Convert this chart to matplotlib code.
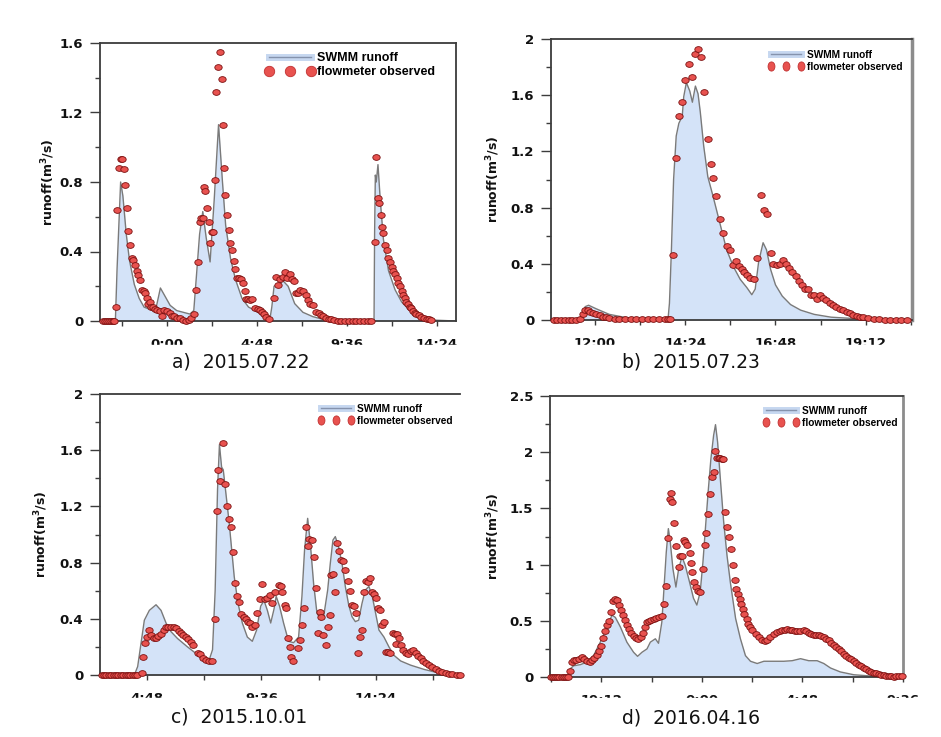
import matplotlib
matplotlib.use("Agg")
import matplotlib.pyplot as plt
from matplotlib.lines import Line2D
from matplotlib.markers import MarkerStyle
from matplotlib.patches import Rectangle
from matplotlib.ticker import MultipleLocator, FuncFormatter
from matplotlib.transforms import Affine2D

# ---- data: time in hours (from midnight of the event day), runoff in m3/s ----

# a) 2015.07.22
a_swmm_t = [-3.57, -2.75, -2.66, -2.47, -2.35, -2.17, -2.0, -1.74, -1.48, -1.22,
            -0.87, -0.61, -0.49, -0.35, -0.09, 0.17, 0.52, 1.22, 1.43, 1.60,
            1.74, 1.91, 2.09, 2.30, 2.52, 2.75, 2.96, 3.13, 3.39, 3.65,
            4.0, 4.35, 4.70, 5.22, 5.48, 5.59, 5.71, 6.20, 6.46, 6.81,
            7.25, 7.78, 8.48, 11.04, 11.07, 11.11, 11.16, 11.25, 11.37, 11.54,
            11.81, 12.16, 12.51, 12.86, 13.21, 13.73, 14.26, 15.4]
a_swmm_q = [0, 0, 0.3, 0.80, 0.72, 0.50, 0.35, 0.21, 0.13, 0.08,
            0.065, 0.06, 0.12, 0.19, 0.14, 0.09, 0.06, 0.04, 0.06, 0.3,
            0.5, 0.63, 0.48, 0.34, 0.7, 1.13, 0.80, 0.55, 0.36, 0.24,
            0.13, 0.08, 0.06, 0.025, 0.005, 0.08, 0.20, 0.23, 0.20, 0.10,
            0.05, 0.025, 0.005, 0, 0.5, 0.84, 0.80, 0.90, 0.70, 0.47,
            0.29, 0.18, 0.11, 0.07, 0.045, 0.02, 0.005, 0]
a_obs_t = [-3.40, -3.30, -3.20, -3.10, -3.00, -2.90, -2.80, -2.70, -2.64, -2.57,
           -2.47, -2.38, -2.30, -2.23, -2.14, -2.09, -1.97, -1.88, -1.79, -1.70,
           -1.62, -1.53, -1.43, -1.34, -1.25, -1.17, -1.08, -0.99, -0.92, -0.85,
           -0.75, -0.66, -0.52, -0.38, -0.26, -0.17, 0.0, 0.14, 0.26, 0.38,
           0.52, 0.70, 0.87, 1.04, 1.18, 1.30, 1.44, 1.57, 1.65, 1.74,
           1.83, 1.91, 1.97, 2.05, 2.16, 2.23, 2.31, 2.40, 2.47, 2.56,
           2.64, 2.70, 2.82, 2.92, 2.97, 3.06, 3.11, 3.20, 3.30, 3.37,
           3.46, 3.55, 3.65, 3.74, 3.83, 3.93, 4.03, 4.14, 4.21, 4.31,
           4.43, 4.56, 4.70, 4.83, 4.96, 5.08, 5.18, 5.30, 5.43, 5.71,
           5.82, 5.94, 6.03, 6.17, 6.29, 6.41, 6.55, 6.69, 6.78, 6.87,
           6.99, 7.11, 7.25, 7.39, 7.52, 7.64, 7.78, 7.95, 8.09, 8.22,
           8.34, 8.48, 8.62, 8.76, 8.92, 9.1, 9.3, 9.5, 9.7, 9.9,
           10.1, 10.3, 10.5, 10.7, 10.9, 11.07, 11.16, 11.23, 11.30, 11.39,
           11.46, 11.54, 11.63, 11.72, 11.81, 11.89, 11.98, 12.07, 12.16, 12.24,
           12.33, 12.42, 12.51, 12.59, 12.68, 12.77, 12.86, 12.94, 13.03, 13.12,
           13.21, 13.29, 13.42, 13.56, 13.70, 13.84, 13.98, 14.08]
a_obs_q = [0, 0, 0, 0, 0, 0, 0, 0.08, 0.64, 0.88,
           0.93, 0.93, 0.875, 0.78, 0.65, 0.52, 0.44, 0.36, 0.35, 0.32,
           0.29, 0.265, 0.235, 0.18, 0.175, 0.16, 0.13, 0.10, 0.11, 0.08,
           0.08, 0.07, 0.065, 0.06, 0.03, 0.065, 0.06, 0.045, 0.03, 0.03,
           0.02, 0.015, 0.006, 0.002, 0.006, 0.015, 0.04, 0.18, 0.34, 0.57,
           0.59, 0.59, 0.77, 0.75, 0.65, 0.57, 0.45, 0.51, 0.51, 0.81,
           1.32, 1.46, 1.55, 1.39, 1.13, 0.88, 0.725, 0.61, 0.525, 0.45,
           0.41, 0.345, 0.30, 0.25, 0.25, 0.24, 0.22, 0.17, 0.125, 0.125,
           0.12, 0.125, 0.077, 0.07, 0.063, 0.054, 0.04, 0.025, 0.01, 0.13,
           0.255, 0.21, 0.24, 0.255, 0.28, 0.25, 0.27, 0.24, 0.23, 0.16,
           0.16, 0.18, 0.175, 0.15, 0.12, 0.10, 0.09, 0.054, 0.044, 0.035,
           0.03, 0.02, 0.013, 0.01, 0.006, 0, 0, 0, 0, 0,
           0, 0, 0, 0, 0, 0.457, 0.946, 0.706, 0.68, 0.61,
           0.54, 0.505, 0.44, 0.41, 0.36, 0.34, 0.31, 0.29, 0.27, 0.245,
           0.22, 0.20, 0.175, 0.15, 0.13, 0.11, 0.096, 0.083, 0.073, 0.06,
           0.048, 0.04, 0.033, 0.025, 0.02, 0.013, 0.01, 0.006]

# b) 2015.07.23
b_swmm_t = [10.83, 11.58, 11.67, 11.74, 11.83, 12.03, 12.38, 12.83, 13.27, 13.94,
            13.98, 14.03, 14.09, 14.16, 14.23, 14.32, 14.36, 14.43, 14.52, 14.59,
            14.67, 14.74, 14.80, 14.89, 15.00, 15.14, 15.32, 15.50, 15.68, 15.86,
            16.04, 16.17, 16.26, 16.35, 16.47, 16.56, 16.67, 16.80, 16.98, 17.20,
            17.47, 17.83, 18.28, 18.91, 19.54, 20.43]
b_swmm_q = [0, 0, 0.05, 0.095, 0.105, 0.08, 0.04, 0.017, 0.003, 0,
            0.12, 0.48, 1.0, 1.31, 1.40, 1.45, 1.59, 1.69, 1.63, 1.55,
            1.665, 1.61, 1.48, 1.24, 1.02, 0.88, 0.69, 0.50, 0.38, 0.29,
            0.23, 0.18, 0.22, 0.41, 0.55, 0.50, 0.36, 0.25, 0.17, 0.11,
            0.07, 0.04, 0.02, 0.01, 0.005, 0]
b_obs_t = [10.9, 11.0, 11.1, 11.2, 11.3, 11.4, 11.5, 11.6, 11.67, 11.74,
           11.81, 11.88, 11.96, 12.03, 12.12, 12.20, 12.29, 12.38, 12.52, 12.65,
           12.8, 12.95, 13.1, 13.25, 13.4, 13.55, 13.7, 13.85, 13.94, 14.0,
           14.07, 14.16, 14.23, 14.31, 14.40, 14.49, 14.58, 14.66, 14.74, 14.81,
           14.90, 15.00, 15.08, 15.15, 15.23, 15.32, 15.40, 15.50, 15.59, 15.66,
           15.75, 15.83, 15.90, 15.97, 16.05, 16.13, 16.22, 16.31, 16.41, 16.49,
           16.58, 16.67, 16.74, 16.83, 16.91, 17.0, 17.08, 17.16, 17.25, 17.34,
           17.43, 17.50, 17.58, 17.67, 17.74, 17.82, 17.91, 17.98, 18.06, 18.15,
           18.24, 18.33, 18.42, 18.51, 18.60, 18.69, 18.78, 18.87, 18.96, 19.05,
           19.14, 19.27, 19.41, 19.54, 19.7, 19.85, 20.0, 20.15, 20.3]
b_obs_q = [0, 0, 0, 0, 0, 0, 0, 0.005, 0.04, 0.07,
           0.07, 0.06, 0.05, 0.045, 0.033, 0.024, 0.019, 0.014, 0.01, 0.006,
           0.005, 0.004, 0.004, 0.005, 0.004, 0.005, 0.004, 0.005, 0.005, 0.005,
           0.46, 1.155, 1.45, 1.55, 1.71, 1.82, 1.73, 1.89, 1.93, 1.87,
           1.625, 1.29, 1.11, 1.01, 0.88, 0.72, 0.62, 0.53, 0.50, 0.39,
           0.42, 0.385, 0.36, 0.34, 0.32, 0.30, 0.29, 0.44, 0.89, 0.78,
           0.757, 0.48, 0.40, 0.39, 0.40, 0.43, 0.40, 0.37, 0.34, 0.31,
           0.28, 0.25, 0.22, 0.22, 0.175, 0.18, 0.15, 0.175, 0.16, 0.14,
           0.12, 0.11, 0.095, 0.08, 0.07, 0.057, 0.047, 0.038, 0.031, 0.024,
           0.019, 0.014, 0.01, 0.005, 0, 0, 0, 0, 0]

# c) 2015.10.01
c_swmm_t = [2.83, 4.27, 4.41, 4.55, 4.69, 4.90, 5.18, 5.39, 5.60, 5.80,
            6.08, 6.50, 6.85, 7.13, 7.41, 7.55, 7.66, 7.76, 7.84, 7.93,
            8.0, 8.08, 8.25, 8.46, 8.62, 8.80, 9.01, 9.22, 9.40, 9.57,
            9.71, 9.85, 9.99, 10.13, 10.22, 10.36, 10.53, 10.74, 10.95, 11.16,
            11.30, 11.41, 11.54, 11.65, 11.79, 11.93, 12.10, 12.21, 12.38, 12.49,
            12.60, 12.70, 12.84, 12.98, 13.12, 13.26, 13.40, 13.54, 13.68, 13.82,
            13.96, 14.11, 14.25, 14.39, 14.53, 14.74, 14.95, 15.16, 15.44, 15.86,
            16.42, 16.98, 17.54, 17.93]
c_swmm_q = [0, 0, 0.06, 0.225, 0.39, 0.46, 0.50, 0.46, 0.37, 0.31,
            0.26, 0.20, 0.154, 0.11, 0.107, 0.18, 0.60, 1.32, 1.64, 1.48,
            1.46, 1.34, 1.08, 0.70, 0.51, 0.37, 0.27, 0.24, 0.32, 0.49,
            0.53, 0.46, 0.37, 0.47, 0.56, 0.49, 0.37, 0.24, 0.23, 0.27,
            0.56, 0.89, 1.115, 0.94, 0.65, 0.44, 0.39, 0.415, 0.605, 0.795,
            0.96, 0.985, 0.91, 0.795, 0.63, 0.50, 0.415, 0.38, 0.39, 0.51,
            0.605, 0.63, 0.56, 0.44, 0.32, 0.27, 0.20, 0.14, 0.10, 0.07,
            0.04, 0.017, 0.007, 0]
c_obs_t = [2.9, 3.0, 3.1, 3.2, 3.3, 3.4, 3.5, 3.6, 3.7, 3.8,
           3.9, 4.0, 4.1, 4.2, 4.3, 4.4, 4.58, 4.65, 4.72, 4.80,
           4.90, 4.97, 5.08, 5.18, 5.27, 5.39, 5.50, 5.60, 5.69, 5.80,
           5.92, 6.03, 6.13, 6.22, 6.33, 6.43, 6.53, 6.64, 6.75, 6.92,
           7.03, 7.14, 7.27, 7.41, 7.53, 7.65, 7.73, 7.80, 7.88, 7.99,
           8.07, 8.15, 8.22, 8.33, 8.41, 8.48, 8.57, 8.65, 8.76, 8.87,
           8.96, 9.04, 9.13, 9.22, 9.32, 9.43, 9.54, 9.64, 9.74, 9.85,
           9.96, 10.06, 10.18, 10.32, 10.41, 10.48, 10.57, 10.64, 10.71, 10.78,
           10.85, 10.92, 11.12, 11.20, 11.30, 11.37, 11.45, 11.54, 11.61, 11.71,
           11.79, 11.87, 11.96, 12.04, 12.11, 12.18, 12.29, 12.38, 12.46, 12.52,
           12.60, 12.67, 12.77, 12.87, 12.94, 13.02, 13.12, 13.22, 13.31, 13.38,
           13.47, 13.56, 13.64, 13.75, 13.82, 13.91, 13.99, 14.06, 14.15, 14.23,
           14.32, 14.40, 14.48, 14.57, 14.64, 14.74, 14.81, 14.91, 14.99, 15.10,
           15.19, 15.23, 15.27, 15.37, 15.47, 15.55, 15.65, 15.75, 15.86, 15.97,
           16.07, 16.17, 16.28, 16.39, 16.51, 16.63, 16.77, 16.91, 17.05, 17.19,
           17.33, 17.47, 17.61, 17.82, 17.92]
c_obs_q = [0, 0, 0, 0, 0, 0, 0, 0, 0, 0,
           0, 0, 0, 0, 0, 0, 0.017, 0.13, 0.225, 0.27,
           0.32, 0.285, 0.26, 0.266, 0.278, 0.29, 0.32, 0.344, 0.344, 0.344,
           0.34, 0.335, 0.315, 0.30, 0.285, 0.27, 0.254, 0.237, 0.21, 0.16,
           0.15, 0.12, 0.11, 0.10, 0.097, 0.40, 1.17, 1.46, 1.38, 1.65,
           1.36, 1.20, 1.11, 1.055, 0.875, 0.657, 0.56, 0.52, 0.434, 0.415,
           0.40, 0.38, 0.37, 0.344, 0.354, 0.444, 0.54, 0.65, 0.54, 0.546,
           0.57, 0.51, 0.593, 0.64, 0.63, 0.59, 0.50, 0.48, 0.26, 0.20,
           0.13, 0.10, 0.19, 0.25, 0.354, 0.48, 1.056, 0.92, 0.966, 0.96,
           0.837, 0.62, 0.30, 0.45, 0.41, 0.285, 0.21, 0.34, 0.427, 0.71,
           0.72, 0.59, 0.94, 0.88, 0.82, 0.81, 0.75, 0.67, 0.60, 0.50,
           0.49, 0.44, 0.154, 0.27, 0.32, 0.59, 0.67, 0.66, 0.69, 0.59,
           0.577, 0.546, 0.474, 0.46, 0.356, 0.38, 0.166, 0.166, 0.16, 0.30,
           0.29, 0.22, 0.29, 0.26, 0.21, 0.18, 0.154, 0.147, 0.173, 0.178,
           0.154, 0.135, 0.12, 0.10, 0.088, 0.071, 0.055, 0.04, 0.031, 0.021,
           0.014, 0.01, 0.007, 0.003, 0]

# d) 2016.04.16 (hours counted from midnight of 04.15)
d_swmm_t = [16.75, 17.64, 17.72, 17.88, 18.2, 18.52, 18.83, 19.15, 19.47, 19.71,
            19.87, 20.11, 20.42, 20.74, 20.93, 21.14, 21.38, 21.54, 21.78, 21.93,
            22.09, 22.20, 22.30, 22.40, 22.49, 22.62, 22.76, 22.89, 23.05, 23.21,
            23.41, 23.60, 23.76, 23.92, 24.05, 24.18, 24.30, 24.43, 24.56, 24.65,
            24.75, 24.88, 25.04, 25.20, 25.36, 25.61, 25.84, 26.08, 26.32, 26.64,
            26.96, 27.43, 27.91, 28.31, 28.71, 29.10, 29.50, 29.82, 30.14, 30.61,
            31.25, 32.04, 32.84, 33.6]
d_swmm_q = [0, 0, 0.074, 0.10, 0.11, 0.133, 0.19, 0.31, 0.445, 0.55,
            0.53, 0.445, 0.31, 0.22, 0.184, 0.22, 0.25, 0.31, 0.34, 0.30,
            0.49, 0.815, 1.11, 1.32, 1.20, 0.96, 0.80, 0.96, 1.07, 0.99,
            0.845, 0.70, 0.64, 0.756, 1.02, 1.35, 1.65, 1.94, 2.15, 2.245,
            2.09, 1.765, 1.38, 1.08, 0.84, 0.52, 0.34, 0.19, 0.14, 0.12,
            0.14, 0.14, 0.14, 0.145, 0.163, 0.145, 0.145, 0.12, 0.08, 0.045,
            0.02, 0.009, 0.003, 0]
d_obs_t = [16.8, 16.9, 17.0, 17.1, 17.2, 17.3, 17.4, 17.5, 17.6, 17.72,
           17.80, 17.88, 18.0, 18.13, 18.28, 18.39, 18.52, 18.64, 18.75, 18.87,
           18.99, 19.10, 19.18, 19.28, 19.36, 19.47, 19.57, 19.66, 19.76, 19.87,
           19.95, 20.04, 20.14, 20.23, 20.33, 20.42, 20.52, 20.61, 20.74, 20.87,
           20.96, 21.09, 21.19, 21.28, 21.38, 21.47, 21.57, 21.70, 21.82, 21.95,
           22.08, 22.20, 22.30, 22.38, 22.46, 22.52, 22.59, 22.68, 22.78, 22.89,
           22.97, 23.06, 23.13, 23.21, 23.29, 23.41, 23.48, 23.54, 23.64, 23.73,
           23.83, 23.92, 24.05, 24.13, 24.21, 24.30, 24.40, 24.48, 24.56, 24.64,
           24.72, 24.80, 24.88, 24.96, 25.03, 25.10, 25.21, 25.29, 25.37, 25.48,
           25.56, 25.65, 25.73, 25.81, 25.89, 25.97, 26.03, 26.13, 26.21, 26.29,
           26.40, 26.56, 26.72, 26.88, 27.0, 27.12, 27.27, 27.43, 27.59, 27.71,
           27.83, 27.95, 28.07, 28.19, 28.31, 28.43, 28.55, 28.70, 28.86, 28.98,
           29.10, 29.22, 29.34, 29.46, 29.58, 29.70, 29.82, 29.94, 30.06, 30.18,
           30.30, 30.42, 30.53, 30.65, 30.77, 30.89, 31.01, 31.13, 31.25, 31.37,
           31.49, 31.61, 31.73, 31.85, 31.96, 32.08, 32.20, 32.32, 32.44, 32.56,
           32.68, 32.80, 32.92, 33.04, 33.16, 33.28, 33.40, 33.55]
d_obs_q = [0, 0, 0, 0, 0, 0, 0, 0, 0, 0.05,
           0.13, 0.154, 0.154, 0.163, 0.178, 0.163, 0.145, 0.133, 0.148, 0.169,
           0.193, 0.228, 0.276, 0.347, 0.406, 0.46, 0.495, 0.578, 0.673, 0.697,
           0.682, 0.638, 0.593, 0.549, 0.504, 0.46, 0.424, 0.394, 0.365, 0.347,
           0.341, 0.356, 0.394, 0.445, 0.49, 0.50, 0.504, 0.519, 0.525, 0.53,
           0.543, 0.65, 0.81, 1.237, 1.587, 1.64, 1.557, 1.37, 1.166, 0.98,
           1.08, 1.077, 1.216, 1.20, 1.17, 1.106, 1.017, 0.934, 0.845, 0.80,
           0.762, 0.756, 0.964, 1.17, 1.278, 1.453, 1.63, 1.78, 1.824, 2.01,
           1.95, 1.95, 1.95, 1.94, 1.94, 1.468, 1.335, 1.246, 1.142, 0.994,
           0.86, 0.786, 0.741, 0.697, 0.652, 0.608, 0.563, 0.519, 0.474, 0.445,
           0.415, 0.385, 0.356, 0.326, 0.32, 0.326, 0.356, 0.385, 0.40, 0.41,
           0.415, 0.42, 0.424, 0.42, 0.415, 0.41, 0.406, 0.41, 0.415, 0.405,
           0.394, 0.385, 0.376, 0.372, 0.37, 0.365, 0.356, 0.342, 0.326, 0.305,
           0.282, 0.265, 0.246, 0.227, 0.208, 0.19, 0.172, 0.156, 0.14, 0.125,
           0.11, 0.095, 0.08, 0.068, 0.056, 0.047, 0.038, 0.032, 0.027, 0.021,
           0.015, 0.012, 0.009, 0.005, 0.0, 0.005, 0.009, 0.006]

captions = ["a)  2015.07.22", "b)  2015.07.23", "c)  2015.10.01", "d)  2016.04.16"]

# ---- styling ----
FILL = "#d4e3f8"
LINE = "#7a7a7a"
FACE = "#e8524f"
EDGE = "#7a1010"
SPINE = "#3c3c3c"
W, H = 941, 737


def px_box(left, top, right, bottom):
    """Axes rectangle from pixel edges of the 941x737 picture."""
    return [left / W, 1 - bottom / H, (right - left) / W, (bottom - top) / H]


def hhmm(h, pos=None):
    m = int(round(h * 60)) % (24 * 60)
    return f"{m // 60}:{m % 60:02d}"


def yfmt(v, pos=None):
    return f"{round(v, 2):g}"


obs_marker = MarkerStyle("o", transform=Affine2D().scale(1.0, 0.78))
leg_marker_tall = MarkerStyle("o", transform=Affine2D().scale(0.75, 1.0))


def draw_panel(ax, swmm_t, swmm_q, obs_t, obs_q, xlim, ymax, ystep, yminor,
               leg_xy, leg_font, leg_hl, leg_ms, leg_mk, ylab_x):
    ax.fill_between(swmm_t, swmm_q, color=FILL, lw=0, zorder=1)
    ax.plot(swmm_t, swmm_q, color=LINE, lw=1.0, zorder=2)
    ax.plot(obs_t, obs_q, ls="none", marker=obs_marker, ms=5.3, mfc=FACE,
            mec=EDGE, mew=0.6, clip_on=False, zorder=3)

    ax.set_xlim(*xlim)
    ax.set_ylim(0, ymax)
    ax.xaxis.set_major_locator(MultipleLocator(4.8 if xlim[1] - xlim[0] > 12 else 2.4))
    ax.xaxis.set_minor_locator(MultipleLocator(2.4 if xlim[1] - xlim[0] > 12 else 1.2))
    ax.xaxis.set_major_formatter(FuncFormatter(hhmm))
    ax.yaxis.set_major_locator(MultipleLocator(ystep))
    ax.yaxis.set_minor_locator(MultipleLocator(yminor))
    ax.yaxis.set_major_formatter(FuncFormatter(yfmt))

    ax.tick_params(axis="y", which="major", length=7, width=1, pad=5,
                   labelsize=9.5, colors=SPINE)
    ax.tick_params(axis="y", which="minor", length=3.5, width=1, colors=SPINE)
    ax.tick_params(axis="x", which="both", length=3.5, width=1, colors=SPINE)
    ax.tick_params(axis="x", which="major", pad=8.5, labelsize=9.5)
    for lab in ax.get_xticklabels() + ax.get_yticklabels():
        lab.set_fontweight("bold")
        lab.set_color("#111111")
    for sp in ax.spines.values():
        sp.set_color(SPINE)
        sp.set_linewidth(1.3)

    ax.set_ylabel("runoff(m$^\\mathbf{3}$/s)", fontsize=9, fontweight="bold",
                  color="#111111")
    ax.yaxis.set_label_coords(ylab_x, 0.5)

    swmm_handle = (Line2D([], [], color="#c6d7f0", lw=5),
                   Line2D([], [], color="#8593ad", lw=1.0))
    obs_handle = Line2D([], [], ls="none", marker=leg_mk, ms=leg_ms,
                        mfc=FACE, mec="#c03030", mew=0.6)
    ax.legend([swmm_handle, obs_handle], ["SWMM runoff", "flowmeter observed"],
              loc="upper left", bbox_to_anchor=leg_xy, frameon=False,
              numpoints=3, handlelength=leg_hl, handletextpad=0.25,
              labelspacing=0.2, borderpad=0, borderaxespad=0, prop=leg_font)


fig = plt.figure(figsize=(W / 100, H / 100), dpi=100)

font_a = {"family": ["Liberation Sans", "DejaVu Sans"], "weight": "bold", "size": 9}
font_n = {"family": ["Liberation Sans", "DejaVu Sans"], "weight": "bold", "size": 7.3}

ax_a = fig.add_axes(px_box(100, 43, 456, 321))
draw_panel(ax_a, a_swmm_t, a_swmm_q, a_obs_t, a_obs_q, (-3.57, 15.41), 1.6, 0.4, 0.2,
           (0.465, 0.968), font_a, 3.9, 7.5, "o", -0.121)

ax_b = fig.add_axes(px_box(551, 39, 912, 320))
draw_panel(ax_b, b_swmm_t, b_swmm_q, b_obs_t, b_obs_q, (10.83, 20.43), 2.0, 0.4, 0.2,
           (0.60, 0.962), font_n, 3.6, 6.6, leg_marker_tall, -0.136)
ax_b.spines["right"].set_color("#8c8c8c")
ax_b.spines["right"].set_linewidth(2.5)

ax_c = fig.add_axes(px_box(100, 394, 460, 675))
draw_panel(ax_c, c_swmm_t, c_swmm_q, c_obs_t, c_obs_q, (2.83, 17.93), 2.0, 0.4, 0.2,
           (0.605, 0.965), font_n, 3.6, 6.6, leg_marker_tall, -0.139)
ax_c.spines["right"].set_visible(False)

ax_d = fig.add_axes(px_box(550, 396, 903, 677))
draw_panel(ax_d, d_swmm_t, d_swmm_q, d_obs_t, d_obs_q, (16.75, 33.6), 2.5, 0.5, 0.25,
           (0.603, 0.965), font_n, 3.6, 6.6, leg_marker_tall, -0.136)
ax_d.spines["right"].set_color("#8c8c8c")
ax_d.spines["right"].set_linewidth(2.0)

# the time labels are cut through the middle in the original figure
for top, bottom in [(345, 356), (698, 709)]:
    fig.patches.append(Rectangle((0, 1 - bottom / H), 1, (bottom - top) / H,
                                 transform=fig.transFigure, color="white", zorder=2))

for cap, (x, y) in zip(captions, [(241, 362), (691, 362), (239, 717), (691, 718)]):
    fig.text(x / W, 1 - y / H, cap, ha="center", va="center", fontsize=13.5,
             color="#111111", zorder=4)

fig.savefig("out.png", dpi=100)
